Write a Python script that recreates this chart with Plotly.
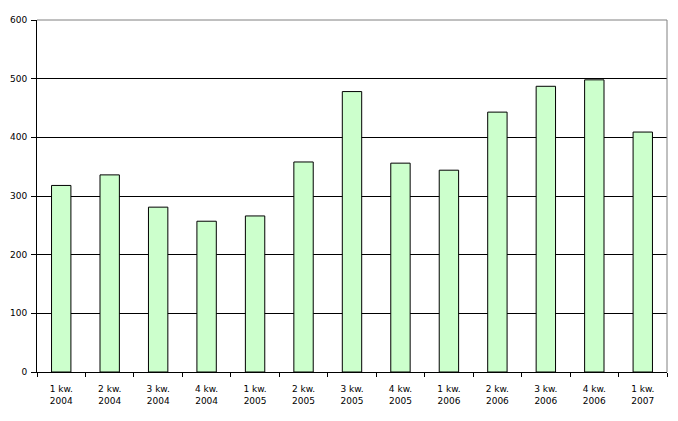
import plotly.graph_objects as go

categories = ["1 kw.<br>2004", "2 kw.<br>2004", "3 kw.<br>2004", "4 kw.<br>2004",
              "1 kw.<br>2005", "2 kw.<br>2005", "3 kw.<br>2005", "4 kw.<br>2005",
              "1 kw.<br>2006", "2 kw.<br>2006", "3 kw.<br>2006", "4 kw.<br>2006",
              "1 kw.<br>2007"]
values = [318, 336, 281, 257, 266, 358, 478, 356, 344, 443, 487, 498, 409]
y_ticks = [0, 100, 200, 300, 400, 500, 600]

fig = go.Figure(go.Bar(
    x=categories, y=values,
    marker=dict(color="#CCFFCC", line=dict(color="black", width=1)),
))

# page body has an 8px default margin; compensate so the plot area lands where the reference has it
fig.update_layout(
    width=670, height=413,
    margin=dict(l=29, r=11, t=12, b=49),
    plot_bgcolor="white", paper_bgcolor="white",
    bargap=0.6,
    showlegend=False,
    font=dict(family="DejaVu Sans", size=9, color="black"),
)
fig.update_xaxes(
    type="category", automargin=False,
    showline=True, linecolor="black", linewidth=1,
    ticks="outside", tickson="boundaries", ticklen=4, tickcolor="black",
    ticklabelstandoff=8,
    showgrid=False,
)
fig.update_yaxes(
    range=[0, 600], tickvals=y_ticks, automargin=False,
    showline=True, linecolor="black", linewidth=1,
    ticks="outside", ticklen=5, tickcolor="black",
    ticklabelstandoff=2,
    showgrid=True, gridcolor="black", gridwidth=1,
    zeroline=False,
)
fig.add_shape(type="line", xref="paper", yref="paper", x0=0, x1=1, y0=1, y1=1,
              line=dict(color="#808080", width=1))
fig.add_shape(type="line", xref="paper", yref="paper", x0=1, x1=1, y0=0, y1=1,
              line=dict(color="#808080", width=1))

fig.write_html("out.html")
